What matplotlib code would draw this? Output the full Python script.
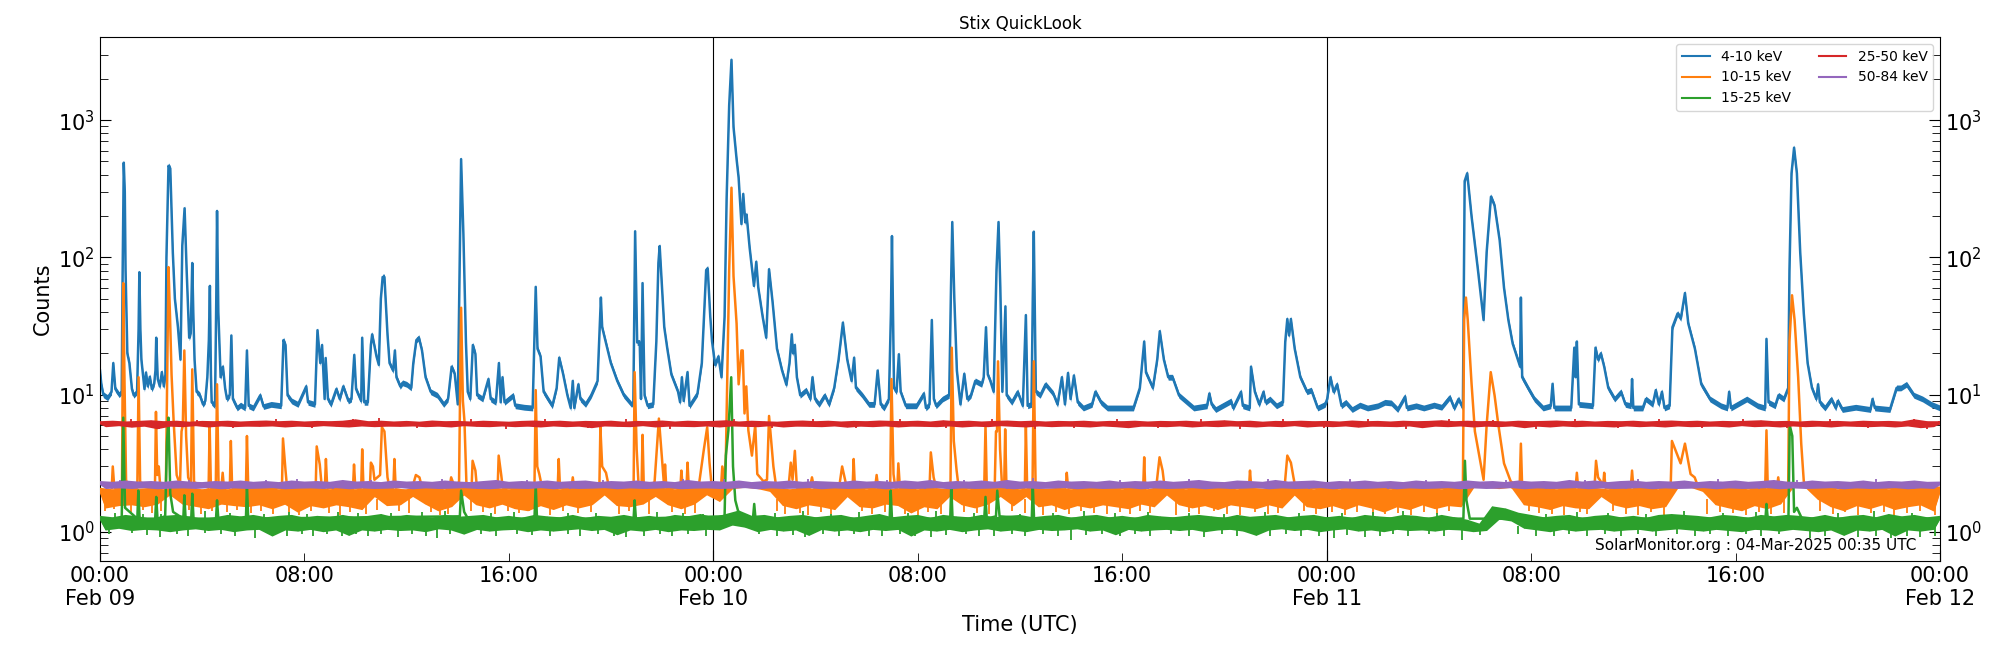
import numpy as np
import matplotlib
matplotlib.use("Agg")
import matplotlib.pyplot as plt
import matplotlib.dates as mdates

start = np.datetime64("2025-02-09T00:00:00")
day_lines = ["2025-02-10", "2025-02-11"]
channels = ["4-10 keV", "10-15 keV", "15-25 keV", "25-50 keV", "50-84 keV"]

# (hours since Feb 09 00:00, counts)
blue_points = [
    (0,15),(.05,12),(.13,10),(.3,9.5),(.45,10.5),(.52,17),(.6,11),(.75,10),(.85,10.5),(.88,60),(.93,490),(.97,300),
    (1.0,81),(1.07,20),(1.15,17),(1.25,11),(1.32,9.9),(1.45,10.5),(1.51,30),(1.54,78),(1.58,30),(1.62,18),(1.74,11),
    (1.8,14.5),(1.87,11.5),(1.95,13.5),(2.03,11),(2.12,12),(2.17,15),(2.2,26),(2.26,13),(2.34,11.5),(2.42,14.6),
    (2.5,11.5),(2.56,14),(2.6,100),(2.68,465),(2.75,445),(2.85,108),(2.93,50),(3.05,31),(3.15,18),(3.22,122),(3.31,228),
    (3.39,81),(3.49,26),(3.55,28),(3.61,91),(3.65,40),(3.7,18),(3.78,10.5),(3.9,10),(4.03,8.5),(4.12,9),(4.2,13.4),
    (4.26,25),(4.3,62),(4.34,14),(4.37,8.8),(4.5,8.3),(4.55,50),(4.58,218),(4.63,40),(4.72,13.4),(4.81,16),(4.9,11),
    (4.97,9.3),(5.08,10),(5.14,27),(5.2,9.3),(5.37,8),(5.5,8.4),(5.68,8),(5.75,21),(5.82,8.3),(6.0,8),(6.27,9.9),
    (6.4,8.2),(6.7,8.5),(7.09,8.3),(7.18,25),(7.26,23),(7.34,9.9),(7.5,9),(7.75,8.5),(8.07,11.5),(8.14,8.8),(8.41,8.5),
    (8.51,29.5),(8.62,17),(8.69,23),(8.79,9.3),(8.83,18.5),(8.92,9.3),(9.04,8.5),(9.25,11),(9.38,9.3),(9.52,11.5),
    (9.72,9),(9.84,9.3),(9.95,19.5),(10.02,11),(10.22,9),(10.26,26),(10.34,8.8),(10.48,8.8),(10.6,23),(10.65,27.5),
    (10.82,19),(10.91,16.5),(10.99,50),(11.06,72),(11.13,72),(11.25,27.5),(11.33,17),(11.47,15),(11.54,21),(11.6,13.4),
    (11.75,11.5),(11.84,12.2),(12.0,11.9),(12.18,11.2),(12.26,17),(12.38,25),(12.48,26),(12.6,21),(12.74,13.4),(12.94,10.5),
    (13.2,9.9),(13.45,8.5),(13.62,9.3),(13.76,16),(13.88,14.2),(14.0,8.5),(14.07,81),(14.13,520),(14.22,147),(14.32,24),
    (14.39,10.5),(14.49,9.3),(14.59,23),(14.69,19.8),(14.76,9.9),(14.98,9.3),(15.2,13),(15.29,9.3),(15.49,8.8),(15.61,17),
    (15.68,8.8),(15.75,13.4),(15.83,8.8),(16.17,9.9),(16.25,8.3),(16.6,8.1),(16.93,8),(17.05,61),(17.12,21.6),(17.24,19),
    (17.36,10.5),(17.53,9.3),(17.7,8.3),(17.87,11.2),(17.97,18.6),(18.12,14.2),(18.29,9.9),(18.42,8),(18.5,12.6),(18.56,8),
    (18.72,11.9),(18.8,9.3),(19.0,8.5),(19.22,9.9),(19.47,12.6),(19.6,51),(19.65,31),(19.82,23),(19.99,17),(20.24,12.6),
    (20.5,9.9),(20.8,8.5),(20.87,8.8),(20.94,155),(21.02,24),(21.12,24),(21.17,9.3),(21.23,65),(21.31,9.9),(21.43,8.3),
    (21.65,8.5),(21.77,24.4),(21.85,91),(21.9,121),(21.97,72),(22.08,31),(22.2,21.6),(22.36,14),(22.62,10.5),(22.7,8.8),
    (22.77,13.4),(22.84,9),(22.99,14.6),(23.07,8.3),(23.38,10.2),(23.55,17),(23.72,81),(23.78,83),(23.88,37),(23.95,24.4),
    (24.07,16.5),(24.2,19),(24.32,13.4),(24.44,37),(24.52,268),(24.62,1280),(24.71,2750),(24.79,890),(24.91,520),(24.99,380),
    (25.1,175),(25.17,290),(25.25,180),(25.3,205),(25.42,118),(25.59,62),(25.68,93),(25.76,60),(25.93,37),(26.07,26),
    (26.18,82),(26.32,47),(26.49,21.6),(26.69,15),(26.86,11.8),(26.98,17),(27.07,27.5),(27.12,20),(27.19,23),(27.27,13.4),
    (27.4,9.9),(27.63,10.8),(27.8,9.3),(27.88,13.4),(27.98,9.3),(28.14,8.5),(28.36,9.9),(28.53,8.5),(28.73,11.2),(28.9,18),
    (29.07,33.5),(29.24,18),(29.41,12.6),(29.51,18.6),(29.58,11.2),(29.83,9.9),(30.09,8.5),(30.31,8.5),(30.43,15),(30.55,8.5),
    (30.68,8),(30.87,9.3),(30.95,40),(30.99,143),(31.03,40),(31.07,11.2),(31.17,10.5),(31.26,19.7),(31.33,10.5),(31.53,8.3),
    (31.95,8.3),(32.24,10.2),(32.32,8),(32.46,8.5),(32.55,35),(32.63,9.3),(32.72,8.3),(32.97,9.3),(33.23,9.9),(33.3,60),
    (33.35,181),(33.43,50),(33.53,15),(33.67,8.5),(33.82,14.2),(33.94,9.3),(34.08,9.9),(34.25,12.6),(34.5,11.9),(34.58,13.4),
    (34.67,31),(34.74,14),(34.84,12.6),(34.97,10.5),(35.08,81),(35.16,181),(35.23,60),(35.31,10.5),(35.43,44),(35.48,9.9),
    (35.68,8.8),(35.91,10.5),(36.11,8.3),(36.23,38),(36.3,8.3),(36.45,8.5),(36.5,50),(36.54,154),(36.62,10.5),(36.79,9.9),
    (37.0,11.9),(37.3,10.2),(37.47,8.5),(37.64,13.4),(37.76,8.5),(37.88,14.4),(37.98,9.3),(38.11,13.8),(38.26,8.8),(38.48,8),
    (38.82,8.5),(38.95,10.5),(39.17,8.8),(39.42,8),(40.44,8),(40.69,11.2),(40.86,24.4),(40.93,14.5),(41.2,11.2),(41.37,18),
    (41.47,29),(41.63,18),(41.8,13.4),(41.97,13.4),(42.22,9.9),(42.8,8),(43.32,8.3),(43.41,10.2),(43.5,8.5),(43.66,7.8),
    (44.26,9),(44.34,8),(44.65,10.5),(44.72,8.3),(44.99,8),(45.04,16),(45.19,10.5),(45.36,8.5),(45.53,10.5),(45.61,8.8),
    (45.78,9.3),(46.04,8.3),(46.29,8.8),(46.38,24.4),(46.46,35.6),(46.53,27),(46.6,35.6),(46.75,21.6),(46.97,13.4),(47.23,10.5),
    (47.4,10.8),(47.65,8),(47.94,8.5),(48.02,9.3),(48.15,13.4),(48.27,10.5),(48.41,11.9),(48.58,8.3),(48.75,8.8),(49.0,7.8),
    (49.3,8.4),(49.6,8.0),(50.0,8.3),(50.28,8.8),(50.53,8.7),(50.78,7.8),(51.07,9.7),(51.14,8),(51.5,8.3),(51.8,8),(52.2,8.4),(52.5,8.1),(52.82,9.6),(52.99,8),(53.16,9.3),(53.33,8),
    (53.4,360),(53.5,410),(53.67,199),(53.92,81),(54.14,35),(54.26,109),(54.43,277),(54.57,239),(54.77,133),(54.94,60),
    (55.11,35),(55.28,23.5),(55.57,16),(55.6,51),(55.65,13.4),(55.88,11.2),(56.13,9.3),(56.47,8),(56.77,8.3),(56.84,12),
    (56.91,8),(57.57,8),(57.69,22),(57.74,13.4),(57.79,24.4),(57.87,8.5),(58.42,8.3),(58.52,22),(58.62,18),(58.73,20),
    (58.86,16),(59.02,11.2),(59.27,9.3),(59.52,10.5),(59.69,8.5),(59.91,8.3),(59.95,13),(60.0,8),(60.37,8),(60.49,9.3),
    (60.76,8.5),(60.88,10.8),(61.0,8.5),(61.12,10.5),(61.22,8),(61.42,8.3),(61.53,31),(61.73,39),(61.86,36),(62.02,55),
    (62.15,33),(62.41,21.6),(62.66,11.9),(63.0,9.3),(63.43,8.3),(63.68,8),(63.75,10.5),(63.82,8),(64.44,9.3),(64.87,8.3),
    (65.16,8),(65.21,25.5),(65.29,8.8),(65.55,8.3),(65.68,9.9),(65.89,9.3),(66.06,11.2),(66.11,81),(66.19,410),(66.29,630),
    (66.4,410),(66.53,109),(66.67,39),(66.82,17),(66.99,11.2),(67.16,9.3),(67.23,11.9),(67.3,8.8),(67.5,8),(67.75,9.3),
    (67.92,8),(68.0,9),(68.18,7.8),(68.7,8.1),(69.28,7.8),(69.36,9.3),(69.45,8),(70.04,7.8),(70.3,11.2),(70.47,11.2),(70.69,11.9),
    (70.98,9.9),(71.32,9.3),(71.66,8.5),(72,8),
]

# flare part of the 10-15 keV channel, above the noise band
orange_points = [
    (.46,2.1),(.5,3.0),(.56,2.1),(.86,2.1),(.91,65),(.96,12),(1.02,2.4),(1.1,2.1),(1.46,2.1),(1.51,13.4),(1.57,2.3),
    (2.15,2.1),(2.19,7.5),(2.24,2.6),(2.3,3),(2.36,2.1),(2.58,2.3),(2.68,85),(2.74,37),(2.8,14),(2.88,6.5),(3.0,2.6),
    (3.13,2.2),(3.19,5.4),(3.24,6),(3.3,21),(3.37,5),(3.45,2.5),(3.56,2.2),(3.61,15.3),(3.68,2.3),(4.25,2.1),(4.29,6),
    (4.34,2.1),(4.53,2.1),(4.58,11.9),(4.64,2.2),(4.75,2.1),(4.8,2.7),(4.85,2.1),(5.08,2.1),(5.12,4.6),(5.17,2.1),
    (5.71,2.1),(5.75,5),(5.8,2.1),(7.12,2.1),(7.16,4.8),(7.26,2.8),(7.32,2.1),(8.44,2.1),(8.48,4.2),(8.6,3.1),(8.68,2.1),
    (8.8,2.1),(8.84,3.4),(8.89,2.1),(9.9,2.1),(9.94,3.1),(9.99,2.1),(10.22,2.1),(10.26,4),(10.31,2.1),(10.56,2.1),(10.6,3.2),
    (10.68,3),(10.74,2.4),(10.96,2.6),(11.03,5.8),(11.13,5.4),(11.25,2.5),(11.33,2.1),(11.48,2.1),(11.52,3.4),(11.57,2.1),
    (12.25,2.2),(12.36,2.6),(12.5,2.5),(12.6,2.1),(13.68,2.1),(13.74,2.5),(13.85,2.2),(14.05,2.3),(14.13,43),(14.2,9),
    (14.26,6.5),(14.34,2.2),(14.54,2.1),(14.58,3.3),(14.69,2.8),(14.75,2.1),(15.56,2.1),(15.6,3.6),(15.7,2.6),(15.76,2.1),
    (17.0,2.1),(17.05,10.8),(17.11,3),(17.19,2.64),(17.3,2.1),(17.91,2.1),(17.95,3.4),(18.0,2.1),(18.45,2.1),(18.5,2.5),(18.55,2.1),
    (19.54,2.1),(19.58,5.8),(19.65,3),(19.8,2.7),(19.92,2.1),(20.88,2.1),(20.92,14.6),(21.0,4),(21.08,2.1),(21.19,2.1),
    (21.23,5.1),(21.28,2.1),(21.7,2.3),(21.87,6.7),(22.0,3.2),(22.07,2.2),(22.11,3.1),(22.16,2.1),(22.71,2.1),(22.75,2.8),
    (22.8,2.1),(22.95,2.1),(22.99,3.2),(23.04,2.1),(23.45,2.3),(23.63,4),(23.76,5.8),(23.85,3.2),(23.94,2.1),(24.3,2.1),
    (24.35,3),(24.42,2.3),(24.49,3.5),(24.52,7.3),(24.62,81),(24.71,322),(24.79,73),(24.91,33),(24.99,11.9),(25.1,21),
    (25.15,21),(25.22,7.3),(25.29,11.5),(25.37,5.5),(25.51,3.6),(25.64,6),(25.72,2.64),(25.96,2.34),(26.1,2.4),(26.18,7),
    (26.35,3),(26.45,2.2),(26.95,2.2),(27.03,3.2),(27.1,2.4),(27.19,3.9),(27.27,2.1),(27.78,2.1),(27.86,2.5),(27.94,2.1),
    (28.92,2.1),(29.04,3),(29.2,2.2),(29.45,2.1),(29.49,3.4),(29.54,2.1),(30.33,2.1),(30.39,2.6),(30.45,2.1),(30.92,2.1),
    (30.97,13),(31.05,2.64),(31.12,2.1),(31.2,2.1),(31.24,3.16),(31.3,2.1),(32.46,2.1),(32.51,3.8),(32.62,2.5),(32.72,2.1),
    (33.28,2.2),(33.33,22),(33.41,4.6),(33.52,2.8),(33.6,2.1),(34.6,2.1),(34.65,6),(34.7,2.1),(35.01,2.1),(35.06,5.4),
    (35.1,5.4),(35.14,17.5),(35.22,4),(35.3,2.1),(35.38,2.1),(35.42,5.6),(35.47,2.1),(36.19,2.1),(36.23,6),(36.28,2.1),
    (36.49,2.1),(36.54,17.5),(36.61,2.2),(37.79,2.1),(37.83,2.7),(37.88,2.1),(40.82,2.1),(40.86,3.5),(40.9,2.1),(41.34,2.2),
    (41.46,3.5),(41.58,2.8),(41.66,2.1),(44.96,2.1),(45.0,2.8),(45.05,2.1),(46.36,2.2),(46.46,3.6),(46.6,3.2),(46.7,2.5),
    (46.78,2.1),(53.33,2.1),(53.38,35),(53.45,51),(53.52,35),(53.67,12),(53.8,5.4),(53.97,3.6),(54.14,2.4),(54.26,6),
    (54.42,14.6),(54.57,9.9),(54.72,6),(54.94,3.16),(55.2,2.34),(55.55,2.1),(55.6,4.4),(55.65,2.1),(57.74,2.1),(57.79,2.7),
    (57.84,2.1),(58.48,2.1),(58.54,3.3),(58.62,2.5),(58.82,2.2),(58.86,2.7),(58.91,2.1),(59.9,2.1),(59.95,2.8),(60.0,2.1),
    (61.46,2.1),(61.51,4.6),(61.73,3.6),(61.85,3.16),(62.02,4.4),(62.24,2.64),(62.4,2.5),(62.55,2.1),(65.16,2.1),(65.21,5.5),
    (65.26,2.1),(65.62,2.1),(65.67,2.5),(65.72,2.1),(66.06,2.2),(66.11,24.4),(66.21,53),(66.31,35),(66.45,13.4),(66.57,4.4),
    (66.67,2.34),(66.8,2.1),(72,2.1),
]

# flare part of the 15-25 keV channel
green_points = [
    (.85,1.25),(.91,6.8),(.98,1.5),(1.46,1.25),(1.5,2),(1.55,1.25),(2.16,1.25),(2.2,1.8),(2.25,1.25),(2.55,1.3),(2.62,4.5),
    (2.68,6.8),(2.75,1.9),(2.86,1.4),(3.26,1.25),(3.3,1.85),(3.35,1.25),(3.57,1.25),(3.61,1.9),(3.66,1.25),(4.54,1.25),
    (4.58,1.7),(4.63,1.25),(5.71,1.25),(5.75,2.2),(5.8,1.25),(14.08,1.3),(14.13,2),(14.25,1.4),(14.4,1.25),(17.0,1.25),
    (17.05,2.2),(17.1,1.25),(20.88,1.25),(20.92,1.7),(20.97,1.25),(24.44,1.3),(24.49,3.6),(24.59,5.5),(24.7,13.4),(24.77,3),
    (24.86,1.7),(25.0,1.35),(25.34,1.3),(25.55,1.25),(25.6,1.6),(25.65,1.25),(30.9,1.25),(30.94,2),(30.99,1.25),(33.27,1.25),
    (33.31,2.2),(33.36,1.25),(34.6,1.25),(34.65,1.8),(34.7,1.25),(35.06,1.3),(35.11,2),(35.2,1.3),(36.46,1.25),(36.5,2.2),
    (36.55,1.25),(53.35,1.25),(53.41,3.3),(53.47,1.7),(53.6,1.25),(65.17,1.25),(65.21,1.6),(65.26,1.25),(66.07,1.25),(66.12,6),
    (66.22,5),(66.29,1.4),(66.4,1.5),(66.6,1.25),(72,1.25),
]

# noise bands, one value every 15 minutes, one row per 6 hours: high, low, high, low ...
orange_band = [
    2.05,1.52,2.00,1.58,2.05,1.60,2.02,1.55,2.05,1.62,2.00,1.90,2.10,1.62,2.05,1.56,2.00,1.50,2.05,1.62,2.00,1.58,2.05,1.55,
    2.02,1.60,2.05,1.50,2.00,1.62,2.05,1.42,2.02,1.58,2.05,1.52,2.00,1.60,2.05,1.55,2.00,1.48,2.05,1.85,2.10,1.58,2.02,1.60,
    2.00,1.85,2.10,1.62,2.05,1.45,2.00,1.55,2.10,1.90,2.05,1.60,2.02,1.52,2.05,1.62,2.00,1.50,2.05,1.45,2.10,1.58,2.05,1.48,
    2.00,1.60,2.05,1.52,2.02,1.60,2.05,1.90,2.10,1.58,2.02,1.55,2.05,1.62,2.10,1.85,2.05,1.60,2.00,1.50,2.05,1.62,2.10,1.90,
    2.05,1.70,2.15,2.10,2.20,2.15,2.20,2.10,2.15,2.00,2.05,1.58,2.00,1.50,2.05,1.60,2.02,1.55,2.05,1.48,2.10,1.85,2.05,1.55,
    2.00,1.52,2.05,1.62,2.02,1.58,2.05,1.40,2.00,1.55,2.05,1.50,2.02,1.85,2.05,1.60,2.00,1.52,2.05,1.62,2.10,1.85,2.05,1.58,
    2.00,1.85,2.05,1.55,2.02,1.60,2.05,1.48,2.00,1.58,2.05,1.52,2.02,1.60,2.05,1.55,2.00,1.50,2.05,1.62,2.00,1.55,2.10,1.90,
    2.05,1.60,2.00,1.52,2.05,1.58,2.02,1.48,2.05,1.60,2.00,1.55,2.05,1.50,2.02,1.60,2.05,1.52,2.10,1.90,2.05,1.55,2.00,1.50,
    2.05,1.58,2.00,1.48,2.05,1.60,2.02,1.52,2.05,1.42,2.00,1.55,2.05,1.48,2.02,1.60,2.05,1.50,2.00,1.58,2.05,1.55,2.15,2.15,
    2.20,2.15,2.20,2.10,2.20,2.15,2.05,1.60,2.02,1.55,2.05,1.48,2.00,1.58,2.05,1.52,2.02,1.50,2.05,1.85,2.00,1.60,2.05,1.52,
    2.02,1.58,2.05,1.50,2.00,1.55,2.20,2.15,2.20,2.15,2.20,2.00,2.05,1.60,2.02,1.52,2.05,1.45,2.00,1.58,2.05,1.50,2.02,1.62,
    2.20,2.15,2.20,2.15,2.10,1.75,2.05,1.55,2.00,1.45,2.05,1.58,2.02,1.50,2.05,1.60,2.00,1.48,2.05,1.55,2.02,1.60,2.05,1.45,
    2.05,
]

green_band = [
    1.28,1.05,1.25,1.08,1.30,1.04,1.27,1.06,1.22,1.05,1.28,1.02,1.30,1.05,1.27,1.07,1.22,1.04,1.25,1.06,1.30,1.02,1.27,1.05,
    1.30,1.06,1.25,0.95,1.28,1.05,1.30,1.03,1.24,1.06,1.28,1.02,1.26,1.05,1.30,0.96,1.25,1.05,1.28,1.03,1.32,1.06,1.25,1.04,
    1.30,1.05,1.27,1.02,1.24,1.07,1.30,1.05,1.26,0.98,1.28,1.06,1.30,1.03,1.25,1.05,1.28,1.06,1.24,1.02,1.30,1.05,1.27,1.03,
    1.25,1.05,1.30,1.07,1.24,1.04,1.28,1.06,1.26,0.97,1.30,1.05,1.25,1.03,1.28,1.06,1.24,1.02,1.30,1.05,1.27,1.04,1.32,1.06,
    1.25,1.05,1.32,1.14,1.40,1.10,1.28,1.02,1.30,1.06,1.25,1.03,1.28,1.05,1.30,0.96,1.25,1.06,1.28,1.03,1.30,1.05,1.24,1.02,
    1.28,1.06,1.32,1.04,1.25,1.06,1.28,0.95,1.30,1.05,1.24,1.03,1.30,1.06,1.27,1.02,1.25,1.05,1.30,1.07,1.25,1.03,1.28,1.05,
    1.30,1.02,1.25,1.06,1.28,1.04,1.30,1.05,1.24,1.07,1.28,1.03,1.30,1.05,1.25,0.97,1.28,1.06,1.24,1.03,1.30,1.05,1.27,1.06,
    1.25,1.04,1.28,1.06,1.30,1.02,1.27,1.05,1.24,1.06,1.30,1.03,1.26,0.96,1.28,1.05,1.30,1.07,1.25,1.04,1.28,1.06,1.30,1.02,
    1.25,1.05,1.28,1.07,1.24,1.03,1.30,1.05,1.27,1.02,1.25,1.06,1.30,1.04,1.28,1.05,1.24,1.03,1.30,1.06,1.25,1.05,1.20,1.02,
    1.12,1.04,1.50,1.26,1.45,1.22,1.35,1.08,1.30,1.05,1.25,1.02,1.28,1.06,1.30,1.03,1.24,1.05,1.28,1.06,1.30,1.03,1.25,1.05,
    1.28,1.06,1.24,1.03,1.30,1.05,1.32,1.07,1.30,1.05,1.28,1.03,1.25,1.06,1.30,1.04,1.28,1.02,1.24,1.06,1.30,1.05,1.27,1.03,
    1.30,1.06,1.28,1.04,1.25,1.02,1.30,1.05,1.24,0.96,1.28,1.05,1.30,1.03,1.25,1.06,1.32,0.95,1.27,1.05,1.30,1.03,1.25,1.06,
    1.28,
]

red_band = [
    6.25,5.95,6.30,6.05,6.22,5.90,6.28,6.00,6.35,5.75,6.25,6.00,6.30,5.95,6.20,6.05,6.28,5.92,6.25,6.02,6.30,5.95,6.22,6.00,
    6.28,5.98,6.32,6.02,6.25,5.92,6.30,6.00,6.22,5.95,6.28,6.05,6.25,5.98,6.30,5.92,6.45,6.02,6.25,5.95,6.30,6.00,6.22,5.98,
    6.28,6.02,6.20,5.95,6.32,6.00,6.25,5.92,6.28,6.05,6.22,5.98,6.30,5.95,6.25,6.02,6.20,5.95,6.28,6.00,6.32,5.92,6.25,6.02,
    6.30,5.95,6.22,6.00,6.28,5.85,6.25,6.02,6.30,5.98,6.20,5.95,6.28,6.05,6.25,5.92,6.32,6.00,6.22,5.98,6.30,5.95,6.25,6.02,
    6.28,5.92,6.35,6.02,6.22,5.98,6.30,5.95,6.25,6.05,6.20,5.92,6.28,6.00,6.32,5.98,6.25,5.95,6.30,6.02,6.22,5.90,6.28,6.00,
    6.25,5.95,6.32,6.02,6.28,5.92,6.25,6.00,6.30,5.98,6.22,5.95,6.35,6.02,6.25,5.92,6.30,6.00,6.22,5.95,6.28,6.05,6.32,5.98,
    6.25,5.92,6.30,6.02,6.22,5.95,6.28,6.00,6.25,5.98,6.30,5.92,6.22,6.02,6.28,5.95,6.25,5.85,6.30,6.00,6.22,5.98,6.28,5.95,
    6.25,6.02,6.30,5.92,6.22,6.00,6.28,5.95,6.35,6.02,6.25,5.98,6.30,5.92,6.20,6.00,6.28,5.95,6.25,6.05,6.30,5.92,6.25,6.00,
    6.28,5.95,6.22,6.02,6.32,5.90,6.25,6.00,6.28,5.98,6.22,5.95,6.30,6.02,6.25,5.85,6.28,6.00,6.35,5.95,6.25,6.02,6.30,5.92,
    6.25,6.00,6.28,5.95,6.22,6.02,6.30,5.85,6.25,6.00,6.28,5.92,6.32,6.02,6.25,5.95,6.30,6.00,6.22,5.98,6.28,5.92,6.25,6.02,
    6.30,5.95,6.22,6.00,6.28,5.92,6.32,6.02,6.25,5.95,6.30,5.98,6.22,6.00,6.28,5.92,6.25,6.05,6.30,5.95,6.35,6.00,6.25,5.92,
    6.28,6.02,6.22,5.95,6.30,6.00,6.25,5.92,6.28,6.02,6.22,5.98,6.30,5.95,6.25,6.00,6.28,5.92,6.22,6.02,6.45,5.85,6.25,5.95,
    6.25,
]

purple_band = [
    2.28,2.12,2.25,2.14,2.30,2.12,2.26,2.15,2.28,2.11,2.25,2.13,2.30,2.14,2.26,2.12,2.24,2.15,2.28,2.11,2.26,2.14,2.30,2.12,
    2.25,2.13,2.28,2.15,2.24,2.11,2.30,2.13,2.26,2.14,2.28,2.12,2.25,2.15,2.32,2.11,2.26,2.14,2.28,2.12,2.24,2.13,2.30,2.15,
    2.26,2.11,2.28,2.14,2.25,2.12,2.30,2.13,2.26,2.15,2.24,2.12,2.28,2.11,2.32,2.14,2.25,2.13,2.28,2.12,2.26,2.15,2.30,2.11,
    2.25,2.14,2.28,2.12,2.30,2.13,2.24,2.15,2.28,2.11,2.26,2.14,2.30,2.12,2.25,2.13,2.28,2.15,2.24,2.11,2.32,2.13,2.26,2.14,
    2.28,2.12,2.25,2.13,2.30,2.15,2.24,2.11,2.28,2.14,2.26,2.12,2.30,2.13,2.25,2.15,2.28,2.11,2.26,2.14,2.24,2.12,2.30,2.13,
    2.26,2.15,2.28,2.11,2.25,2.14,2.30,2.12,2.26,2.13,2.32,2.15,2.24,2.11,2.28,2.14,2.26,2.12,2.30,2.13,2.25,2.15,2.32,2.11,
    2.26,2.14,2.28,2.12,2.24,2.13,2.30,2.15,2.26,2.11,2.28,2.14,2.25,2.12,2.30,2.13,2.24,2.15,2.28,2.11,2.26,2.14,2.30,2.12,
    2.25,2.13,2.28,2.15,2.32,2.11,2.26,2.14,2.24,2.12,2.30,2.13,2.28,2.15,2.25,2.11,2.32,2.14,2.26,2.12,2.28,2.13,2.30,2.15,
    2.24,2.11,2.28,2.14,2.26,2.12,2.30,2.13,2.25,2.15,2.28,2.11,2.24,2.14,2.30,2.12,2.26,2.13,2.28,2.15,2.25,2.11,2.30,2.14,
    2.26,2.12,2.28,2.13,2.24,2.15,2.30,2.11,2.26,2.14,2.28,2.12,2.25,2.13,2.32,2.15,2.26,2.11,2.30,2.14,2.24,2.12,2.28,2.13,
    2.30,2.15,2.25,2.11,2.28,2.14,2.26,2.12,2.30,2.13,2.24,2.15,2.28,2.11,2.26,2.14,2.30,2.12,2.25,2.13,2.28,2.15,2.32,2.11,
    2.26,2.14,2.24,2.12,2.30,2.13,2.26,2.15,2.28,2.11,2.25,2.14,2.30,2.12,2.24,2.13,2.28,2.15,2.26,2.11,2.30,2.14,2.25,2.12,
    2.26,
]

# single noise excursions out of the bands: (hour, counts)
orange_dips = [
    (.2,1.42),(.55,1.46),(1.2,1.4),(1.7,1.44),(2.05,1.38),(2.4,1.42),(3.5,1.45),(3.95,1.36),(4.4,1.42),(4.95,1.4),(5.35,1.44),(5.9,1.38),
    (6.3,1.42),(6.75,1.36),(7.4,1.4),(7.8,1.34),(8.25,1.42),(8.95,1.38),(9.4,1.32),(9.8,1.4),(10.4,1.36),(10.85,1.44),(11.7,1.42),(12.1,1.38),
    (12.95,1.4),(13.3,1.32),(13.6,1.36),(14.5,1.42),(15.0,1.4),(15.45,1.36),(15.95,1.42),(16.4,1.38),(16.8,1.42),(17.6,1.34),(18.1,1.42),(18.7,1.38),
    (19.2,1.4),(20.3,1.36),(20.7,1.42),(21.5,1.36),(22.4,1.4),(22.9,1.36),(23.3,1.38),(26.5,1.42),(26.8,1.36),(27.4,1.38),(27.7,1.34),(28.2,1.4),
    (28.6,1.36),(29.8,1.42),(30.2,1.36),(30.7,1.4),(31.5,1.36),(32.0,1.32),(32.4,1.4),(32.9,1.36),(33.8,1.4),(34.3,1.38),(34.8,1.36),(35.7,1.42),
    (36.2,1.38),(36.9,1.34),(37.4,1.4),(37.9,1.36),(38.4,1.42),(38.9,1.38),(39.4,1.36),(39.9,1.4),(40.3,1.36),(40.7,1.42),(41.1,1.38),(42.1,1.34),
    (42.6,1.4),(43.0,1.36),(43.6,1.42),(44.1,1.36),(44.6,1.32),(45.2,1.4),(45.7,1.36),(46.1,1.38),(47.1,1.42),(47.6,1.36),(48.2,1.4),(48.7,1.34),
    (49.2,1.4),(49.8,1.32),(50.3,1.36),(50.8,1.38),(51.3,1.34),(51.8,1.4),(52.3,1.36),(52.8,1.42),(55.9,1.42),(56.3,1.38),(56.8,1.36),(57.3,1.34),
    (57.9,1.4),(58.2,1.36),(59.2,1.42),(59.7,1.36),(60.2,1.34),(60.7,1.4),(61.2,1.32),(62.9,1.36),(63.4,1.4),(63.9,1.38),(64.4,1.34),(64.9,1.4),
    (65.4,1.36),(65.9,1.38),(67.3,1.42),(67.8,1.36),(68.3,1.4),(68.8,1.34),(69.3,1.38),(69.8,1.4),(70.2,1.34),(70.7,1.38),(71.2,1.42),(71.8,1.34),
]

green_dips = [
    (.35,.97),(1.25,.98),(1.85,.95),(2.35,.92),(3.0,.96),(3.45,.93),(4.1,.98),(4.75,.96),(5.3,.94),(6.05,.9),(6.6,.96),(7.3,.94),(7.9,.97),
    (8.35,.93),(8.9,.96),(9.45,.94),(10.0,.96),(10.5,.93),(11.0,.97),(11.65,.92),(12.2,.96),(12.75,.94),(13.2,.9),(13.7,.96),(14.9,.96),(15.5,.94),
    (16.3,.97),(16.9,.95),(17.6,.93),(18.3,.96),(18.8,.94),(19.5,.97),(20.1,.94),(20.6,.92),(21.3,.94),(21.9,.96),(22.4,.93),(23.0,.96),(23.7,.94),
    (25.8,.96),(26.5,.93),(27.1,.95),(27.6,.92),(28.3,.96),(28.9,.94),(29.5,.96),(30.1,.93),(30.6,.94),(31.3,.96),(31.9,.93),(32.5,.92),(33.1,.95),
    (33.9,.96),(34.4,.94),(35.0,.93),(35.7,.96),(36.2,.94),(36.9,.96),(37.5,.94),(38.0,.88),(38.6,.95),(39.2,.96),(39.9,.94),(40.5,.96),(41.1,.93),
    (41.9,.96),(42.6,.94),(43.2,.92),(43.9,.96),(44.5,.94),(45.1,.96),(45.8,.93),(46.4,.96),(47.0,.94),(47.7,.93),(48.3,.9),(48.8,.95),(49.5,.92),
    (50.1,.94),(50.6,.96),(51.2,.93),(52.0,.96),(52.6,.94),(53.3,.88),(54.0,.95),(55.5,.96),(56.2,.94),(56.9,.93),(57.5,.96),(58.2,.94),(58.9,.96),
    (59.5,.93),(60.2,.96),(60.9,.94),(61.7,.96),(62.4,.94),(63.0,.96),(63.7,.93),(64.4,.96),(65.0,.94),(65.7,.96),(66.9,.9),(67.5,.93),(68.2,.95),
    (68.8,.92),(69.5,.94),(70.1,.9),(70.7,.94),(71.2,.92),(71.8,.94),
]

green_tips = [
    (.6,1.38),(1.7,1.36),(2.4,1.35),(4.1,1.42),(5.1,1.38),(6.4,1.36),(7.4,1.4),(8.1,1.35),(9.3,1.4),(10.1,1.37),(11.4,1.38),(12.6,1.4),(13.5,1.42),
    (15.3,1.37),(16.2,1.4),(18.3,1.38),(19.4,1.37),(21.8,1.4),(22.8,1.38),(23.6,1.36),(26.4,1.38),(27.5,1.42),(28.6,1.36),(29.7,1.4),(31.6,1.38),
    (32.7,1.42),(34.2,1.38),(36.0,1.36),(37.3,1.38),(38.5,1.42),(39.7,1.37),(41.0,1.4),(42.6,1.38),(44.0,1.36),(45.6,1.4),(46.9,1.38),(48.6,1.37),
    (49.8,1.4),(51.0,1.42),(52.3,1.38),(56.6,1.36),(57.8,1.4),(59.0,1.38),(60.5,1.36),(62.0,1.42),(63.5,1.38),(64.8,1.4),(68.0,1.38),(69.4,1.42),(70.9,1.38),
]

red_spikes = [
    (1.2,6.6),(2.3,5.6),(3.8,6.55),(5.2,5.7),(6.9,6.6),(8.3,5.7),(9.9,6.6),(10.9,6.8),(12.4,5.7),(14.5,6.6),(15.9,5.65),(17.4,6.6),(19.1,5.7),(20.6,6.6),
    (22.3,5.65),(24.8,6.6),(26.3,5.7),(27.9,6.6),(29.6,5.7),(31.3,6.6),(33.1,5.7),(34.9,6.65),(36.6,5.65),(38.1,5.7),(39.8,6.6),(41.4,5.7),(43.1,6.65),
    (44.6,5.65),(46.3,6.6),(47.9,5.7),(49.6,6.6),(51.1,5.6),(52.8,6.6),(54.5,6.55),(56.2,5.65),(57.7,6.6),(59.4,5.7),(61.0,6.6),(62.7,5.7),(64.3,6.6),
    (66.0,5.7),(67.7,6.6),(69.2,5.7),(71.0,6.7),(71.5,5.6),
]

purple_spikes = [
    (.8,2.4),(2.4,2.05),(3.5,2.4),(5.0,2.04),(6.5,2.4),(7.7,2.42),(9.1,2.05),(10.6,2.4),(12.2,2.05),(13.4,2.42),(15.2,2.04),(16.7,2.4),(18.4,2.05),(19.7,2.4),
    (21.4,2.04),(22.8,2.42),(24.4,2.42),(26.0,2.05),(27.7,2.45),(29.3,2.05),(30.8,2.4),(32.3,2.04),(33.8,2.4),(35.5,2.05),(36.5,2.46),(38.2,2.05),(39.9,2.4),
    (41.0,2.04),(42.6,2.42),(44.2,2.05),(45.7,2.44),(47.3,2.05),(48.9,2.42),(50.4,2.05),(51.9,2.4),(53.5,2.05),(55.0,2.4),(56.6,2.04),(58.1,2.4),(59.7,2.05),
    (60.2,2.42),(61.7,2.04),(63.3,2.42),(64.9,2.05),(66.4,2.4),(68.0,2.05),(69.5,2.42),(71.0,2.04),
]


def to_dates(hours):
    return mdates.date2num(start + (np.asarray(hours) * 3600).astype("timedelta64[s]"))


def draw_band(ax, values, color, label, edge, zorder):
    # even samples are the top of the noise, odd samples the bottom
    values = np.asarray(values)
    t = to_dates(np.linspace(0, 72, len(values)))
    ax.fill(np.r_[t[::2], t[1::2][::-1]], np.r_[values[::2], values[1::2][::-1]],
            facecolor=color, edgecolor=color, lw=edge, zorder=zorder)
    ax.plot(t, values, color=color, lw=1.5, label=label, zorder=zorder)


def draw_spikes(ax, points, inner, color, zorder, lw=1.3):
    t, y = zip(*points)
    ax.vlines(to_dates(t), y, inner, color=color, lw=lw, zorder=zorder)


fig, ax = plt.subplots(figsize=(20, 6.5), dpi=100)
fig.subplots_adjust(left=0.05, right=0.97, top=0.943, bottom=0.137)
ax.xaxis_date()

# day boundaries sit under the curves
for day in day_lines:
    ax.axvline(mdates.date2num(np.datetime64(day)), color="k", lw=0.8, zorder=1)

blue_t, blue_y = zip(*blue_points)
orange_t, orange_y = zip(*orange_points)
green_t, green_y = zip(*green_points)
blue_y = np.array(blue_y)

# baseline noise thickens the blue curve vertically only
ax.fill_between(to_dates(blue_t), blue_y / 1.05, blue_y * 1.05, color="tab:blue", lw=0, zorder=2)
ax.plot(to_dates(blue_t), blue_y, color="tab:blue", lw=1.8, label=channels[0], zorder=2)

draw_band(ax, orange_band, "tab:orange", channels[1], 2, 3)
draw_spikes(ax, orange_dips, 1.75, "tab:orange", 3)
ax.plot(to_dates(orange_t), orange_y, color="tab:orange", lw=1.8, zorder=3)

draw_band(ax, green_band, "tab:green", channels[2], 2, 4)
draw_spikes(ax, green_dips, 1.1, "tab:green", 4)
draw_spikes(ax, green_tips, 1.2, "tab:green", 4)
ax.plot(to_dates(green_t), green_y, color="tab:green", lw=1.8, zorder=4)

draw_band(ax, red_band, "tab:red", channels[3], 2.2, 5)
draw_spikes(ax, red_spikes, 6.1, "tab:red", 5)

draw_band(ax, purple_band, "tab:purple", channels[4], 2.6, 6)
draw_spikes(ax, purple_spikes, 2.2, "tab:purple", 6)

ax.set_yscale("log")
ax.set_ylim(0.615, 4030)
ax.set_xlim(mdates.date2num(np.datetime64("2025-02-09")), mdates.date2num(np.datetime64("2025-02-12")))

ax.xaxis.set_major_locator(mdates.HourLocator(byhour=[0]))
ax.xaxis.set_major_formatter(mdates.DateFormatter("%H:%M\n%b %d"))
ax.xaxis.set_minor_locator(mdates.HourLocator(byhour=[8, 16]))
ax.xaxis.set_minor_formatter(mdates.DateFormatter("%H:%M"))

ax.tick_params(which="major", direction="in", length=8, labelsize=15)
ax.tick_params(which="minor", direction="in", length=6, labelsize=15)
ax.tick_params(axis="y", which="both", left=True, right=True, labelleft=True, labelright=True)

ax.set_xlabel("Time (UTC)", fontsize=15)
ax.set_ylabel("Counts", fontsize=15)
ax.set_title("Stix QuickLook", fontsize=12)

leg = ax.legend(loc="upper right", ncol=2, fontsize=10)
for line in leg.get_lines():
    line.set_linewidth(1.5)

ax.text(0.987, 0.03, "SolarMonitor.org : 04-Mar-2025 00:35 UTC", transform=ax.transAxes,
        ha="right", va="center", fontsize=11, zorder=7)

plt.savefig("out.png", dpi=100)
plt.close()
